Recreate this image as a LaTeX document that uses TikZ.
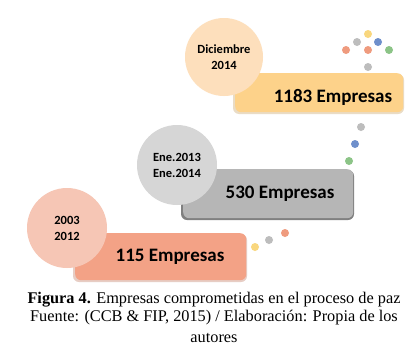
\documentclass[tikz,border=0pt]{standalone}
\usepackage{fontspec}
\setmainfont{Liberation Serif}
\newfontfamily\calib{Carlito}
\definecolor{topcirc}{HTML}{FDDFBC}
\definecolor{topbox}{HTML}{FDD28A}
\definecolor{midcirc}{HTML}{D6D6D6}
\definecolor{midbox}{HTML}{B6B6B6}
\definecolor{botcirc}{HTML}{F6C6B5}
\definecolor{botbox}{HTML}{F3A286}
\definecolor{dyellow}{HTML}{F9D77E}
\definecolor{dgrey}{HTML}{BDBDBD}
\definecolor{dblue}{HTML}{6E8FCB}
\definecolor{dorange}{HTML}{EF9B7E}
\definecolor{dgreen}{HTML}{8CC487}
\tikzset{
  databox/.style={rounded corners=6pt, inner sep=0pt},
  boxtext/.style={font=\calib\bfseries\fontsize{19}{22}\selectfont},
  datecirc/.style={circle, inner sep=0pt, minimum size=78pt, align=center, font=\calib\bfseries\fontsize{12.5}{16}\selectfont},
  dotc/.style={circle, inner sep=0pt, minimum size=8pt},
  captext/.style={font=\fontsize{16.3}{18}\selectfont},
}
\begin{document}
\begin{tikzpicture}[x=1pt,y=-1pt]
\useasboundingbox[fill=white] (0,0) rectangle (417,359);
% boxes
\fill[topbox!80!black!40, rounded corners=6pt] (233,74) rectangle (404,114);
\node[databox, fill=topbox, minimum width=168pt, minimum height=39pt, anchor=north west] (b3) at (235,73) {};
\fill[midbox!70!black, rounded corners=6pt] (181,170) rectangle (354,220);
\node[databox, fill=midbox, minimum width=170pt, minimum height=49pt, anchor=north west] (b2) at (183,169) {};
\fill[botbox!80!black!40, rounded corners=6pt] (73,234) rectangle (247,282);
\node[databox, fill=botbox, minimum width=171pt, minimum height=47pt, anchor=north west] (b1) at (75,233) {};
% box texts
\node[boxtext] (t3) at (333,97) {1183 Empresas};
\node[boxtext] (t2) at (280,194) {530 Empresas};
\node[boxtext] (t1) at (170,257) {115 Empresas};
% circles
\node[datecirc, fill=topcirc] (c3) at (224,57) {Diciembre\\2014};
\node[datecirc, fill=midcirc, minimum size=80pt] (c2) at (177,165) {Ene.2013\\Ene.2014};
\node[datecirc, fill=botcirc, minimum size=80pt] (c1) at (67,228) {2003\\2012};
% dots
\node[dotc, fill=dyellow] (d1) at (368,34) {};
\node[dotc, fill=dgrey] (d2) at (357,42) {};
\node[dotc, fill=dblue] (d3) at (378,42) {};
\node[dotc, fill=dorange] (d4) at (346,50) {};
\node[dotc, fill=dorange] (d5) at (368,50) {};
\node[dotc, fill=dgreen] (d6) at (389,50) {};
\node[dotc, fill=dgrey] (d7) at (368,67) {};
\node[dotc, fill=dgrey] (d8) at (361,127) {};
\node[dotc, fill=dblue] (d9) at (355,144) {};
\node[dotc, fill=dgreen] (d10) at (349,161) {};
\node[dotc, fill=dyellow] (d11) at (255,247) {};
\node[dotc, fill=dgrey] (d12) at (269,240) {};
\node[dotc, fill=dorange] (d13) at (285,233) {};
% caption
\node[captext] (cap1) at (214,300) {\textbf{Figura 4.} Empresas comprometidas en el proceso de paz};
\node[captext] (cap2) at (214,318) {Fuente: (CCB \& FIP, 2015) / Elaboración: Propia de los};
\node[captext] (cap3) at (214,338) {autores};
\end{tikzpicture}
\end{document}
